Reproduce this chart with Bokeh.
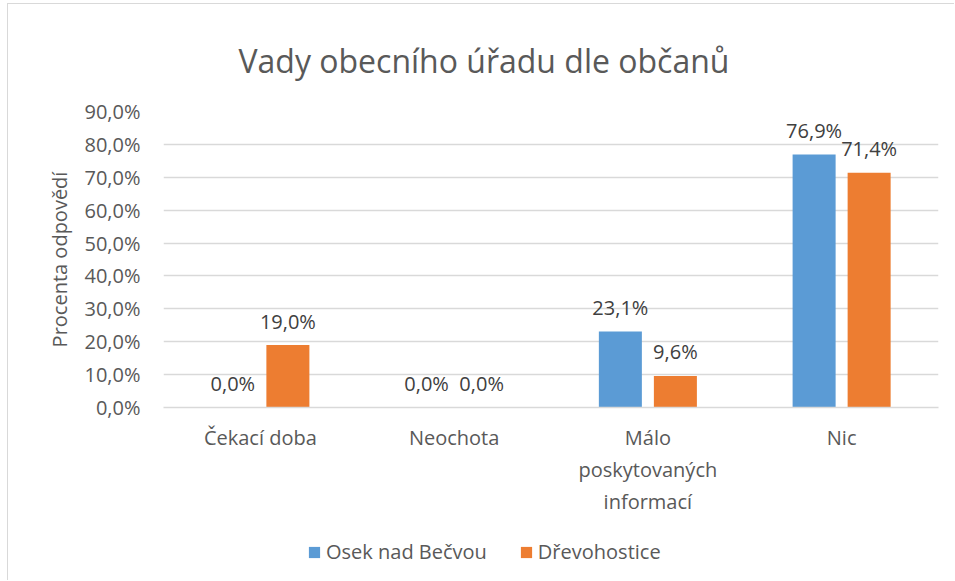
from bokeh.plotting import figure
from bokeh.layouts import column
from bokeh.models import (FactorRange, Range1d, ColumnDataSource, LabelSet, Legend,
                          LegendItem, FixedTicker)
from bokeh.transform import dodge
from bokeh.core.properties import value
from bokeh.embed import file_html
from bokeh.resources import INLINE

# ---- data ----
categories = ["Čekací doba", "Neochota", "Málo\nposkytovaných\ninformací", "Nic"]
series_names = ["Osek nad Bečvou", "Dřevohostice"]
osek = [0.0, 0.0, 23.1, 76.9]
drevohostice = [19.0, 0.0, 9.6, 71.4]
y_ticks = [0, 10, 20, 30, 40, 50, 60, 70, 80, 90]
y_tick_labels = ["0,0%", "10,0%", "20,0%", "30,0%", "40,0%", "50,0%",
                 "60,0%", "70,0%", "80,0%", "90,0%"]
chart_title = "Vady obecního úřadu dle občanů"
y_axis_title = "Procenta odpovědí"

FONT = "Open Sans"
BLUE = "#5b9bd5"
ORANGE = "#ed7d31"
GRID = "#d9d9d9"
TXT = "#595959"
LBL = "#404040"

def fmt(v):
    return f"{v:.1f}%".replace(".", ",")

src = ColumnDataSource(dict(
    cat=categories,
    osek=osek,
    drev=drevohostice,
    osek_lbl=[fmt(v) for v in osek],
    drev_lbl=[fmt(v) for v in drevohostice],
))

off = 0.142
w = 0.222

# ---- main chart ----
p = figure(x_range=FactorRange(*categories), y_range=Range1d(0, 90),
           width=947, height=526, output_backend="svg", toolbar_location=None,
           title=chart_title,
           min_border_left=155, min_border_right=17, min_border_top=107,
           min_border_bottom=123)
p.styles = {"margin-top": "3px", "margin-left": "7px",
            "border-top": "1px solid #d9d9d9", "border-left": "1px solid #d9d9d9"}

p.title.text_font = FONT
p.title.text_font_size = "32px"
p.title.text_font_style = "normal"
p.title.text_color = TXT
p.title.align = "left"
p.title.offset = 75
p.title.standoff = 60

p.outline_line_color = None
p.background_fill_color = "white"
p.border_fill_color = "white"

r1 = p.vbar(x=dodge("cat", -off, range=p.x_range), top="osek", width=w,
            source=src, fill_color=BLUE, line_color=None)
r2 = p.vbar(x=dodge("cat", off, range=p.x_range), top="drev", width=w,
            source=src, fill_color=ORANGE, line_color=None)

for col, ycol, d in (("osek_lbl", "osek", -off), ("drev_lbl", "drev", off)):
    ls = LabelSet(x=dodge("cat", d, range=p.x_range), y=ycol, text=col,
                  source=src, text_align="center", text_baseline="middle",
                  y_offset=24, text_font=value(FONT), text_font_size="20px",
                  text_color=LBL)
    p.add_layout(ls)

# y axis
p.yaxis.ticker = FixedTicker(ticks=y_ticks)
p.yaxis.major_label_overrides = {t: l for t, l in zip(y_ticks, y_tick_labels)}
p.yaxis.axis_line_color = None
p.yaxis.major_tick_line_color = None
p.yaxis.minor_tick_line_color = None
p.yaxis.major_label_text_font = FONT
p.yaxis.major_label_text_font_size = "20px"
p.yaxis.major_label_text_color = TXT
p.yaxis.major_label_standoff = 17
p.yaxis.axis_label = y_axis_title
p.yaxis.axis_label_text_font = FONT
p.yaxis.axis_label_text_font_size = "20px"
p.yaxis.axis_label_text_font_style = "normal"
p.yaxis.axis_label_text_color = TXT
p.yaxis.axis_label_standoff = 8

# x axis
p.xaxis.axis_line_color = GRID
p.xaxis.axis_line_width = 1.5
p.xaxis.major_tick_line_color = None
p.xaxis.minor_tick_line_color = None
p.xaxis.major_label_text_font = FONT
p.xaxis.major_label_text_font_size = "20px"
p.xaxis.major_label_text_color = TXT
p.xaxis.major_label_standoff = 10

p.xgrid.grid_line_color = None
p.ygrid.grid_line_color = GRID
p.ygrid.grid_line_width = 1.5

# ---- legend strip below the chart ----
lp = figure(x_range=FactorRange(*categories), y_range=Range1d(1000, 1001),
            width=947, height=51, output_backend="svg", toolbar_location=None,
            x_axis_type=None, y_axis_type=None, min_border=0,
            min_border_left=0, min_border_right=0, min_border_top=0,
            min_border_bottom=0)
lp.styles = {"margin-left": "7px", "border-left": "1px solid #d9d9d9"}
lp.outline_line_color = None
lp.background_fill_color = "white"
lp.border_fill_color = "white"
l1 = lp.vbar(x=dodge("cat", -off, range=lp.x_range), top="osek", width=w,
             source=src, fill_color=BLUE, line_color=None)
l2 = lp.vbar(x=dodge("cat", off, range=lp.x_range), top="drev", width=w,
             source=src, fill_color=ORANGE, line_color=None)

legend = Legend(items=[LegendItem(label=series_names[0], renderers=[l1]),
                       LegendItem(label=series_names[1], renderers=[l2])],
                orientation="horizontal", location=(144, 15),
                label_text_font=FONT, label_text_font_size="20px",
                label_text_color=TXT, glyph_width=14, glyph_height=14,
                label_standoff=5, spacing=32, padding=5, margin=0,
                border_line_color=None, background_fill_alpha=0)
lp.add_layout(legend, "center")

layout = column(p, lp, spacing=0)

open("out.html", "w").write(file_html(layout, INLINE))
